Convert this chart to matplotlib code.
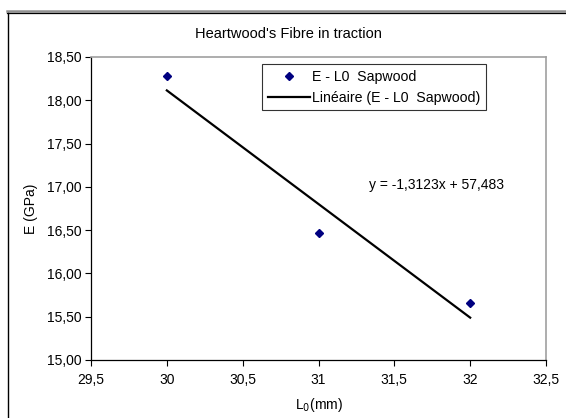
import matplotlib
matplotlib.use("Agg")
import matplotlib.pyplot as plt
from matplotlib.lines import Line2D
from matplotlib.ticker import FuncFormatter, MultipleLocator

plt.rcParams['font.family'] = ['Liberation Sans', 'DejaVu Sans']

# Data
x_vals = [30, 31, 32]
y_vals = [18.28, 16.47, 15.655]
slope = -1.3123
intercept = 57.483
title = "Heartwood's Fibre in traction"
series_label = "E - L0  Sapwood"
trend_label = "Linéaire (E - L0  Sapwood)"
equation = "y = -1,3123x + 57,483"

W, H = 566, 418
fig = plt.figure(figsize=(W/100, H/100), dpi=100)

def px(x0, y0, x1, y1):
    return [x0/W, 1 - y1/H, (x1-x0)/W, (y1-y0)/H]

ax = fig.add_axes(px(91, 57, 546, 360))

ax.plot(x_vals, y_vals, linestyle='none', marker='D', markersize=4.5,
        color='#000080', label=series_label)
tx = [min(x_vals), max(x_vals)]
ty = [slope*v + intercept for v in tx]
ax.plot(tx, ty, color='black', linewidth=1.6, label=trend_label)

ax.set_xlim(29.5, 32.5)
ax.set_ylim(15.0, 18.5)
ax.xaxis.set_major_locator(MultipleLocator(0.5))
ax.yaxis.set_major_locator(MultipleLocator(0.5))
ax.xaxis.set_major_formatter(FuncFormatter(lambda v, p: (f"{v:g}").replace('.', ',')))
ax.yaxis.set_major_formatter(FuncFormatter(lambda v, p: f"{v:.2f}".replace('.', ',')))
ax.tick_params(direction='out', length=4, width=0.8, labelsize=10, colors='black', pad=3)
ax.tick_params(axis='x', pad=5)

for s in ['top', 'right']:
    ax.spines[s].set_color('#a0a0a0')
    ax.spines[s].set_linewidth(1.2)
for s in ['left', 'bottom']:
    ax.spines[s].set_color('black')
    ax.spines[s].set_linewidth(0.9)

fig.text(288/W, 1 - 34/H, title, fontsize=10.5, ha='center', va='center')
ax.set_ylabel("E (GPa)", fontsize=10, labelpad=6)
ax.set_xlabel("L$_0$(mm)", fontsize=10, labelpad=7)

leg = ax.legend(loc='upper left', bbox_to_anchor=((262-91)/455, 1 - (64-57)/303),
                fontsize=10.2, frameon=True, fancybox=False, edgecolor='black',
                borderpad=0.4, handlelength=3.0, handletextpad=0.15, labelspacing=0.5,
                borderaxespad=0)
leg.get_frame().set_linewidth(0.8)

ax.text((369-91)/455, 1 - (185-57)/303, equation, transform=ax.transAxes,
        fontsize=10, va='center', ha='left')

# Chart area border
fig.add_artist(Line2D([7/W, 1], [1 - 10.5/H, 1 - 10.5/H], color='#909090', linewidth=1.8,
                      transform=fig.transFigure))
fig.add_artist(Line2D([7/W, 1], [1 - 13/H, 1 - 13/H], color='black', linewidth=0.9,
                      transform=fig.transFigure))
fig.add_artist(Line2D([7.5/W, 7.5/W], [1 - 13/H, 1 - 417/H], color='black', linewidth=1.0,
                      transform=fig.transFigure))

fig.savefig("out.png", dpi=100)
